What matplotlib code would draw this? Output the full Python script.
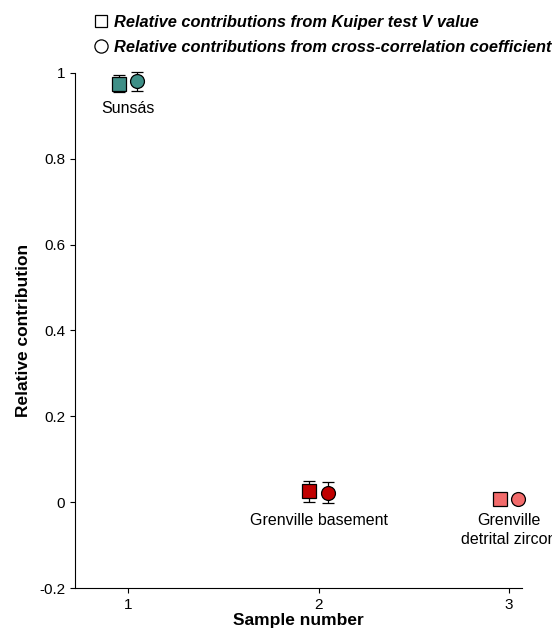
import numpy as np
import matplotlib.pyplot as plt
from matplotlib.lines import Line2D

plt.rcParams['font.family'] = ['Liberation Sans', 'DejaVu Sans']

samples = np.array([1, 2, 3])
names = ['Sunsás', 'Grenville basement', 'Grenville\ndetrital zircon']
kuiper = [0.975, 0.025, 0.007]
kuiper_err = [0.02, 0.025, 0.005]
xcorr = [0.98, 0.022, 0.007]
xcorr_err = [0.022, 0.025, 0.005]
colors = ['#3f8f87', '#c00000', '#f26b6b']

fig = plt.figure(figsize=(5.52, 6.33), dpi=100)
ax = fig.add_axes([0.136, 0.071, 0.81, 0.814])

for i in range(3):
    ax.errorbar(samples[i] - 0.048, kuiper[i], yerr=kuiper_err[i], fmt='s', ms=9.5,
                mfc=colors[i], mec='k', mew=0.9, ecolor='k', elinewidth=0.9, capsize=4,
                clip_on=False)
    ax.errorbar(samples[i] + 0.048, xcorr[i], yerr=xcorr_err[i], fmt='o', ms=10,
                mfc=colors[i], mec='k', mew=0.9, ecolor='k', elinewidth=0.9, capsize=4,
                clip_on=False)

ax.text(1, 0.935, names[0], ha='center', va='top', fontsize=11.5)
ax.text(2, -0.025, names[1], ha='center', va='top', fontsize=11.5)
ax.text(3, -0.025, names[2], ha='center', va='top', fontsize=11.5, linespacing=1.3)

ax.set_xlim(0.72, 3.07)
ax.set_ylim(-0.2, 1)
ax.set_xticks([1, 2, 3])
ax.set_yticks([-0.2, 0, 0.2, 0.4, 0.6, 0.8, 1])
ax.set_yticklabels(['-0.2', '0', '0.2', '0.4', '0.6', '0.8', '1'])
ax.tick_params(labelsize=11, width=0.8)
for s in ['top', 'right']:
    ax.spines[s].set_visible(False)
ax.set_xlabel('Sample number', fontsize=12.5, fontweight='bold', labelpad=1)
ax.set_ylabel('Relative contribution', fontsize=12.5, fontweight='bold', labelpad=6)

handles = [Line2D([], [], marker='s', ls='', mfc='white', mec='k', ms=9, mew=0.9),
           Line2D([], [], marker='o', ls='', mfc='white', mec='k', ms=9.5, mew=0.9)]
fig.legend(handles, ['Relative contributions from Kuiper test V value',
                     'Relative contributions from cross-correlation coefficient'],
           loc='upper left', bbox_to_anchor=(0.145, 1.0), frameon=False,
           prop={'weight': 'bold', 'style': 'italic', 'size': 11.8},
           handletextpad=0.4, labelspacing=0.6, handlelength=0.8)

fig.savefig('out.png')
